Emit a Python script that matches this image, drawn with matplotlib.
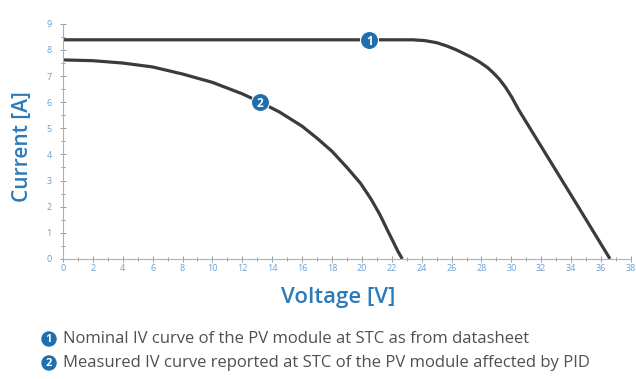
import numpy as np
import matplotlib.pyplot as plt
from matplotlib.ticker import MultipleLocator

# IV curve readings (voltage in V, current in A)
v_nominal = [0, 5, 10, 15, 20, 23.4, 24.2, 25.0, 25.7, 26.3, 26.8, 27.4, 27.9, 28.4, 28.8,
             29.2, 29.6, 30.0, 30.5, 32.4, 34.6, 36.6]
i_nominal = [8.39, 8.39, 8.39, 8.39, 8.39, 8.39, 8.36, 8.28, 8.15, 8.01, 7.87, 7.70, 7.53, 7.33, 7.12,
             6.88, 6.58, 6.22, 5.70, 3.93, 1.88, 0.0]

v_pid = [0, 2, 4, 6, 8, 10, 12, 13.2, 14.5, 16, 17, 18, 19, 19.9, 20.6, 21.2, 21.7, 22.1, 22.4, 22.7]
i_pid = [7.62, 7.59, 7.50, 7.35, 7.08, 6.76, 6.32, 6.0, 5.62, 5.08, 4.62, 4.12, 3.5, 2.9, 2.3, 1.7,
         1.11, 0.65, 0.3, 0.0]

# where the numbered badges sit on each curve
badge_pos = [(20.5, 8.39), (13.2, 6.0)]
badge_text = ["1", "2"]
notes = ["Nominal IV curve of the PV module at STC as from datasheet",
         "Measured IV curve reported at STC of the PV module affected by PID"]

blue = "#1f6fae"
label_blue = "#2b7bbb"
tick_blue = "#6a9fd0"
line_col = "#3b3b3b"

plt.rcParams['font.family'] = ['Open Sans', 'DejaVu Sans']

fig = plt.figure(figsize=(6.36, 3.79), dpi=100)
ax = fig.add_axes([0.099, 0.317, 0.893, 0.62])

ax.plot(v_nominal, i_nominal, color=line_col, lw=2.3, solid_capstyle='butt', zorder=2)
ax.plot(v_pid, i_pid, color=line_col, lw=2.3, solid_capstyle='butt', zorder=2)

for (bx, by), t in zip(badge_pos, badge_text):
    ax.plot(bx, by, 'o', ms=13, color=blue, mec='white', mew=0.8, zorder=3)
    ax.text(bx, by, t, color='white', fontsize=8.5, fontweight='bold',
            ha='center', va='center_baseline', zorder=4)

ax.set_xlim(0, 38)
ax.set_ylim(0, 9)
ax.xaxis.set_major_locator(MultipleLocator(2))
ax.xaxis.set_minor_locator(MultipleLocator(1))
ax.yaxis.set_major_locator(MultipleLocator(1))
ax.yaxis.set_minor_locator(MultipleLocator(0.5))
for s in ['top', 'right']:
    ax.spines[s].set_visible(False)
for s in ['left', 'bottom']:
    ax.spines[s].set_color('#b0b0b0')
    ax.spines[s].set_linewidth(0.8)
ax.tick_params(which='both', direction='inout', color='#9a9a9a', width=0.7,
               labelcolor=tick_blue, labelsize=6.5)
ax.tick_params(which='major', length=4)
ax.tick_params(which='minor', length=3)
ax.tick_params(axis='x', pad=2)
ax.tick_params(axis='y', pad=8)
for lab in ax.get_yticklabels():
    lab.set_horizontalalignment('center')

ax.set_xlabel("Voltage [V]", color=label_blue, fontsize=16, fontweight='semibold')
ax.xaxis.set_label_coords(0.484, -0.12)
ax.set_ylabel("Current [A]", color=label_blue, fontsize=15, fontweight='semibold')
ax.yaxis.set_label_coords(-0.052, 0.48)

# numbered notes below the chart
for k, (t, note) in enumerate(zip(badge_text, notes)):
    y = 1 - (339 + 24 * k) / 379
    fig.text(49 / 636, y, t, color='white', fontsize=8, fontweight='bold',
             ha='center', va='center',
             bbox=dict(boxstyle='circle,pad=0.2', fc=blue, ec='none'))
    fig.text(63 / 636, y, note, color='#505050', fontsize=12, ha='left', va='center')

fig.savefig("out.png", dpi=100)
